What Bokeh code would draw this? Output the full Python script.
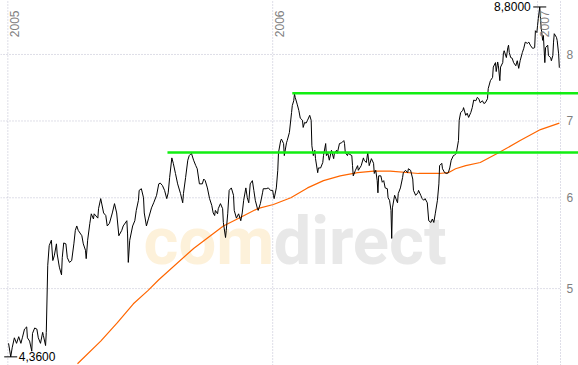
import numpy as np
from bokeh.plotting import figure
from bokeh.models import Range1d
from bokeh.core.properties import value
from bokeh.embed import file_html
from bokeh.resources import INLINE

# ---- data (x = calendar days since 2005-01-01) ----
price_day = [1, 4, 6, 9, 12, 15, 18, 20, 23, 26, 27, 30, 33, 34, 37, 40, 42, 45, 48, 49,
             52, 53, 55, 57, 60, 62, 64, 67, 68, 71, 74, 75, 77, 80, 82, 85, 88, 91, 93, 95,
             97, 102, 104, 107, 108, 110, 113, 115, 118, 119, 124, 125, 128, 132, 135, 137, 140, 144, 147, 150,
             153, 157, 159, 164, 165, 166, 168, 172, 175, 177, 180, 181, 184, 187, 188, 191, 194, 198, 201, 205,
             208, 210, 213, 216, 219, 221, 223, 226, 228, 231, 234, 238, 241, 242, 245, 248, 250, 253, 256, 259,
             261, 264, 268, 270, 272, 275, 278, 281, 283, 285, 286, 289, 290, 293, 296, 297, 300, 301, 303, 305,
             308, 311, 312, 315, 318, 321, 323, 325, 328, 330, 332, 334, 337, 339, 341, 344, 345, 348, 351, 352,
             356, 359, 362, 365, 366, 367, 370, 372, 373, 376, 377, 380, 381, 384, 385, 388, 391, 392, 394, 395,
             396, 399, 401, 403, 406, 407, 409, 411, 413, 416, 418, 419, 421, 423, 424, 427, 428, 431, 434, 435,
             438, 439, 441, 443, 446, 449, 450, 453, 454, 457, 460, 463, 464, 465, 468, 469, 474, 475, 476, 479,
             482, 483, 487, 490, 491, 494, 496, 498, 501, 504, 505, 507, 509, 510, 511, 514, 516, 518, 520, 523,
             524, 526, 528, 529, 530, 533, 537, 538, 541, 544, 545, 548, 551, 552, 555, 558, 559, 562, 565, 566,
             569, 571, 573, 575, 578, 580, 583, 585, 587, 589, 592, 594, 595, 598, 599, 602, 605, 607, 609, 611,
             614, 615, 618, 621, 622, 624, 627, 628, 631, 633, 635, 638, 640, 642, 645, 647, 649, 651, 654, 656,
             658, 661, 662, 665, 668, 669, 672, 673, 675, 676, 678, 679, 682, 683, 684, 687, 689, 690, 691, 693,
             695, 697, 700, 702, 704, 706, 709, 711, 713, 716, 718, 720, 723, 724, 726, 727, 729, 730, 731, 733,
             734, 735, 737, 738, 740, 741, 744, 745, 748, 749, 751, 752, 753, 756, 757, 759, 760]
price = [4.48, 4.36, 4.44, 4.53, 4.48, 4.54, 4.48, 4.53, 4.61, 4.63, 4.53, 4.50, 4.41, 4.57, 4.62, 4.61, 4.53, 4.48, 4.58, 4.55,
         4.46, 4.58, 5.24, 5.45, 5.51, 5.29, 5.34, 5.47, 5.36, 5.22, 5.14, 5.32, 5.48, 5.47, 5.32, 5.27, 5.29, 5.47, 5.62, 5.67,
         5.62, 5.56, 5.47, 5.40, 5.31, 5.51, 5.70, 5.81, 5.75, 5.81, 5.76, 5.87, 5.99, 5.82, 5.79, 5.67, 5.70, 5.82, 5.93, 5.82,
         5.56, 5.62, 5.67, 5.73, 5.58, 5.27, 5.51, 5.67, 5.73, 5.85, 5.97, 6.09, 6.11, 6.00, 5.82, 5.67, 5.76, 5.88, 5.94, 6.03,
         6.17, 6.18, 6.15, 6.09, 5.99, 6.06, 6.25, 6.50, 6.43, 6.30, 6.17, 6.05, 5.94, 6.05, 6.25, 6.47, 6.53, 6.56, 6.47, 6.40,
         6.36, 6.17, 6.17, 6.23, 6.21, 6.12, 5.99, 5.91, 5.82, 5.79, 5.85, 5.81, 5.87, 5.93, 5.87, 5.71, 5.54, 5.62, 5.81, 6.09,
         6.12, 6.03, 5.85, 5.76, 5.81, 5.73, 5.82, 5.97, 6.12, 6.00, 5.94, 6.17, 6.21, 6.09, 5.97, 5.87, 5.85, 5.93, 6.06, 6.11,
         6.11, 6.12, 6.09, 6.09, 6.03, 5.99, 6.12, 6.34, 6.57, 6.73, 6.75, 6.69, 6.53, 6.70, 6.73, 6.84, 7.12, 7.22, 7.29, 7.39,
         7.34, 7.23, 7.15, 7.04, 7.01, 6.91, 6.98, 6.97, 7.01, 7.08, 7.01, 6.66, 6.53, 6.60, 6.49, 6.31, 6.37, 6.37, 6.44, 6.53,
         6.69, 6.53, 6.56, 6.47, 6.60, 6.49, 6.56, 6.60, 6.56, 6.69, 6.70, 6.73, 6.69, 6.57, 6.53, 6.56, 6.53, 6.40, 6.27, 6.34,
         6.40, 6.34, 6.40, 6.50, 6.47, 6.44, 6.57, 6.40, 6.49, 6.43, 6.30, 6.34, 6.21, 6.06, 6.27, 6.27, 6.19, 6.21, 6.12, 6.11,
         6.00, 5.97, 5.85, 5.53, 5.88, 6.03, 5.94, 6.05, 6.12, 6.25, 6.31, 6.34, 6.31, 6.36, 6.34, 6.23, 6.09, 6.03, 6.06, 6.09,
         6.03, 5.99, 5.97, 5.99, 5.94, 5.73, 5.71, 5.75, 5.71, 5.81, 5.97, 6.17, 6.40, 6.43, 6.36, 6.31, 6.30, 6.31, 6.37, 6.47,
         6.53, 6.53, 6.56, 6.73, 7.01, 7.12, 7.15, 7.19, 7.08, 7.11, 7.05, 7.12, 7.19, 7.30, 7.29, 7.34, 7.32, 7.26, 7.29, 7.25,
         7.26, 7.32, 7.47, 7.59, 7.64, 7.80, 7.87, 7.73, 7.88, 7.82, 7.59, 7.80, 7.87, 8.03, 8.06, 7.95, 8.11, 8.15, 8.03, 7.95,
         7.94, 7.87, 7.82, 7.90, 7.78, 7.90, 8.03, 8.10, 8.20, 8.18, 8.20, 8.15, 8.10, 8.10, 8.11, 8.39, 8.36, 8.48, 8.60, 8.80,
         8.60, 8.44, 8.23, 8.31, 7.87, 8.11, 8.15, 7.98, 7.95, 7.90, 7.98, 8.20, 8.34, 8.28, 8.23, 8.01, 7.79]

ma_day = [96, 128, 151, 173, 193, 208, 256, 297, 321, 344, 366, 390, 413, 435, 458, 482, 504, 527,
          566, 594, 607, 617, 631, 651, 675, 706, 734, 760]
ma200 = [4.30, 4.50, 4.67, 4.85, 4.98, 5.09, 5.42, 5.67, 5.77, 5.87, 5.92, 6.00, 6.12, 6.21, 6.27, 6.31, 6.33, 6.33,
         6.30, 6.30, 6.31, 6.36, 6.40, 6.44, 6.56, 6.73, 6.88, 6.97]

level_start_day = [220, 392]
level_value = [6.57, 7.40]

year_day = [0, 365, 730]
year_label = ["2005", "2006", "2007"]
y_ticks = [5, 6, 7, 8]
y_tick_label = ["5", "6", "7", "8"]

# ---- layout ----
W, H = 578, 365
X0, X1 = -10.1, 786.4
Y0, Y1 = 4.285, 8.915
DPP = (X1 - X0) / W


def sx(px):
    return X0 + px * DPP


def sy(py):
    return float(np.exp(np.log(Y1) - py / H * (np.log(Y1) - np.log(Y0))))


frame_end = sx(560)
GRID = "#bdbdd0"
LABEL = "#7f7f7f"

p = figure(width=W, height=H, x_range=Range1d(X0, X1), y_range=Range1d(Y0, Y1),
           y_axis_type="log", x_axis_location=None, y_axis_location=None,
           toolbar_location=None, output_backend="svg", min_border=0,
           outline_line_color=None, background_fill_color="white",
           border_fill_color="white")
p.grid.visible = False

# watermark
p.text(x=[sx(143)], y=[sy(240)], text=["com"], text_font=value("Roboto"),
       text_font_style="bold", text_font_size="67px", text_color="#fdf1da",
       text_baseline="alphabetic", level="image")
p.text(x=[sx(273)], y=[sy(240)], text=["direct"], text_font=value("Roboto"),
       text_font_style="bold", text_font_size="67px", text_color="#e8e8e8",
       text_baseline="alphabetic", level="image")

# grid
p.segment(x0=[X0] * len(y_ticks), y0=y_ticks, x1=[frame_end] * len(y_ticks), y1=y_ticks,
          line_color=GRID, line_dash="1 2", line_width=1)
vx = year_day + [frame_end]
p.segment(x0=vx, y0=[Y0] * len(vx), x1=vx, y1=[Y1] * len(vx),
          line_color=GRID, line_dash="1 2", line_width=1)

# moving average and price
p.line(ma_day, ma200, line_color="#ff6600", line_width=1.2)
p.line(price_day, price, line_color="black", line_width=1)

# resistance lines
p.segment(x0=level_start_day, y0=level_value, x1=[X1] * 2, y1=level_value,
          line_color="#11ee11", line_width=2.5)

# year labels
p.text(x=year_day, y=[Y1] * 3, text=year_label, angle=np.pi / 2, x_offset=2, y_offset=10,
       text_align="right", text_baseline="top", text_color=LABEL,
       text_font=value("Liberation Sans"), text_font_size="12px")

# value axis labels
p.text(x=[frame_end] * 4, y=y_ticks, text=y_tick_label, x_offset=6,
       text_align="left", text_baseline="middle", text_color=LABEL,
       text_font=value("Liberation Sans"), text_font_size="12px")

# min / max markers
imax = int(np.argmax(price))
imin = int(np.argmin(price))
fmt = lambda v: f"{v:.4f}".replace(".", ",")
p.scatter([price_day[imax], price_day[imin]], [price[imax], price[imin]], marker="dash",
          size=13, line_color="black", line_width=1)
p.text(x=[price_day[imax]], y=[price[imax]], text=[fmt(price[imax])], x_offset=-9,
       text_align="right", text_baseline="middle", text_color="black",
       text_font=value("Liberation Sans"), text_font_size="12px")
p.text(x=[price_day[imin]], y=[price[imin]], text=[fmt(price[imin])], x_offset=8,
       text_align="left", text_baseline="middle", text_color="black",
       text_font=value("Liberation Sans"), text_font_size="12px")

open("out.html", "w").write(file_html(p, INLINE))
